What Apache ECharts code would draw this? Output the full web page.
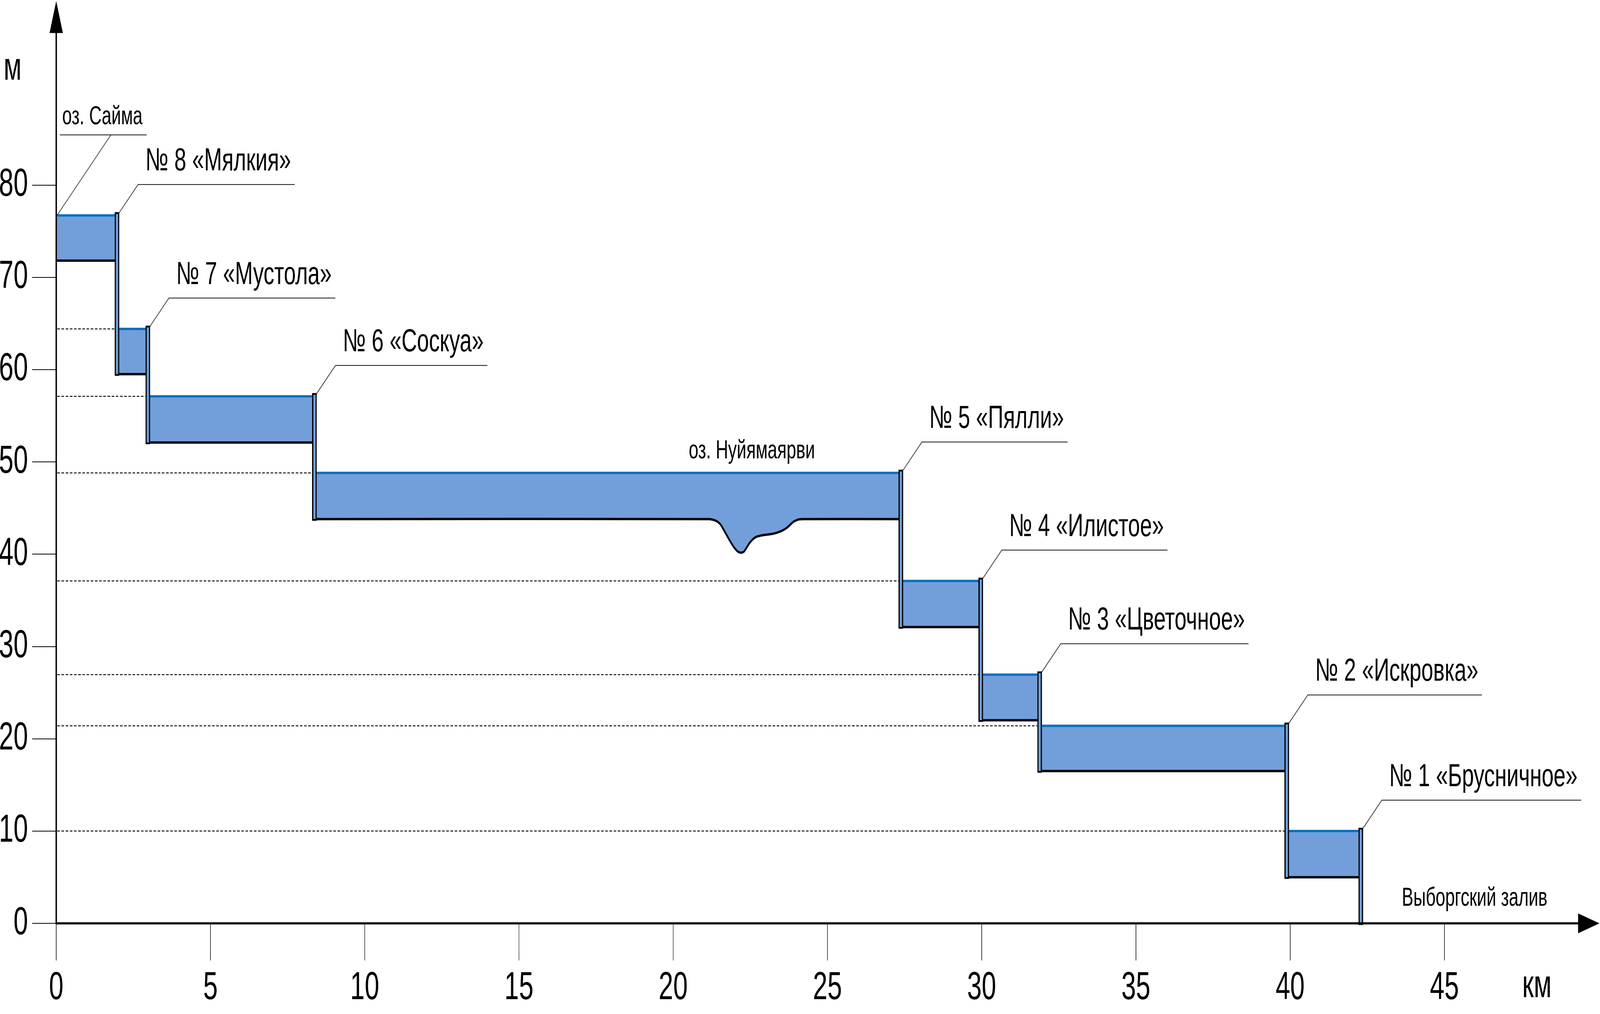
<!DOCTYPE html>
<html>
<head>
<meta charset="utf-8">
<script src="https://cdn.jsdelivr.net/npm/echarts@6/dist/echarts.min.js"></script>
<style>
html,body{margin:0;padding:0;background:#fff;overflow:hidden;}
#chart{width:6120px;height:2595px;transform-origin:0 0;}
</style>
</head>
<body>
<div id="chart"></div>
<script>
// ---------- data ----------
const xTicks = [0, 5, 10, 15, 20, 25, 30, 35, 40, 45];           // км
const yTicks = [0, 10, 20, 30, 40, 50, 60, 70, 80];               // м
const lockNames = ['№ 8 «Мялкия»', '№ 7 «Мустола»', '№ 6 «Соскуа»', '№ 5 «Пялли»',
                   '№ 4 «Илистое»', '№ 3 «Цветочное»', '№ 2 «Искровка»', '№ 1 «Брусничное»'];
const lockKm = [1.97, 2.97, 8.37, 27.38, 29.97, 31.88, 39.89, 42.29];
// pool 0 = оз. Сайма (upstream of lock 8), pool i = between lock i-1 and lock i
const poolTop    = [76.7, 64.4, 57.1, 48.8, 37.1, 26.95, 21.4, 10.0];
const poolBottom = [71.8, 59.5, 52.1, 43.8, 32.1, 22.0, 16.5, 5.0];
const seaLevel = 0;
// bottom profile of оз. Нуйямаярви (pool 3)
const dipPool = 3;
const dipKm    = [21.18, 21.40, 21.53, 21.61, 21.79, 21.96, 22.09, 22.20, 22.30, 22.48, 22.65, 22.82, 23.26, 23.51, 23.69, 23.90, 24.08, 24.21];
const dipLevel = [43.8, 43.59, 43.23, 42.8, 41.73, 40.8, 40.3, 40.16, 40.3, 41.23, 41.8, 42.0, 42.23, 42.51, 42.87, 43.51, 43.77, 43.8];
const lakeNames = ['оз. Сайма', 'оз. Нуйямаярви', 'Выборгский залив'];
const lakeKm    = [0, 22.55, 43.62];
const lakeLevel = [76.7, 48.8, 0];
const unitX = 'км', unitY = 'м';

// ---------- styles ----------
const REF_W = 6120, REF_H = 2595;
const FONT = '"Liberation Sans", Arial, sans-serif';
const WATER = '#729FDA';
const SURFACE = '#0070C0';
const measureCtx = document.createElement('canvas').getContext('2d');
function textWidth(t, size) { measureCtx.font = size + 'px ' + FONT; return measureCtx.measureText(t).width; }

function renderPool(params, api) {
  const i = api.value(0);
  const x0 = i === 0 ? 0 : lockKm[i - 1];
  const x1 = lockKm[i];
  const tl = api.coord([x0, poolTop[i]]);
  const tr = api.coord([x1, poolTop[i]]);
  const bl = api.coord([x0, poolBottom[i]]);
  const br = api.coord([x1, poolBottom[i]]);
  const bottom = [bl];
  if (i === dipPool) dipKm.forEach((k, j) => bottom.push(api.coord([k, dipLevel[j]])));
  bottom.push(br);
  const fillPts = [tl, tr].concat(bottom.slice().reverse());
  return {
    type: 'group',
    children: [
      { type: 'polygon', shape: { points: fillPts }, style: { fill: WATER } },
      { type: 'line', shape: { x1: tl[0], y1: tl[1], x2: tr[0], y2: tr[1] }, style: { stroke: SURFACE, lineWidth: 6 } },
      { type: 'polyline', shape: { points: bottom, smooth: i === dipPool ? 0.25 : 0 }, style: { stroke: '#000', lineWidth: 6, fill: null } }
    ]
  };
}

function renderLevel(params, api) {
  const i = api.value(0);
  const a = api.coord([0, poolTop[i]]);
  const b = api.coord([lockKm[i - 1], poolTop[i]]);
  return { type: 'line', shape: { x1: a[0] + 4, y1: a[1], x2: b[0] - 9, y2: b[1] },
           style: { stroke: '#111', lineWidth: 2.5, lineDash: [10, 6] } };
}

function renderLock(params, api) {
  const i = api.value(0);
  const top = api.coord([lockKm[i], poolTop[i]]);
  const low = i + 1 < poolBottom.length ? poolBottom[i + 1] : seaLevel;
  const bot = api.coord([lockKm[i], low]);
  const w = 13;
  return { type: 'rect', shape: { x: top[0] - w / 2, y: top[1] - 6, width: w, height: bot[1] - top[1] + 8 },
           style: { fill: WATER, stroke: '#000', lineWidth: 4.5 } };
}

function renderCallout(params, api) {
  const i = api.value(0);
  const top = api.coord([lockKm[i], poolTop[i]]);
  const sx = top[0] + 8.5, sy = top[1] - 7;
  const cx = sx + 72, cy = sy - 72;
  const fs = 82;
  const tw = textWidth(lockNames[i], fs);
  const tx = cx + 28;
  return {
    type: 'group',
    children: [
      { type: 'polyline', shape: { points: [[sx, sy], [cx, cy], [tx + tw + 14, cy]] }, style: { stroke: '#111', lineWidth: 2, fill: null } },
      { type: 'text', style: { text: lockNames[i], x: tx, y: cy - 30 - 0.35 * fs, fontSize: fs, fontFamily: FONT, fill: '#000', align: 'left', verticalAlign: 'middle' } }
    ]
  };
}

function renderLakes(params, api) {
  const i = api.value(0);
  const p = api.coord([lakeKm[i], lakeLevel[i]]);
  const fs = 66;
  if (i === 0) {
    const sx = p[0] + 4, sy = p[1] - 1;
    const cx = sx + 205, cy = sy - 205;
    const tw = textWidth(lakeNames[i], fs);
    const tx = sx + 19;
    return {
      type: 'group',
      children: [
        { type: 'line', shape: { x1: sx, y1: sy, x2: cx, y2: cy }, style: { stroke: '#111', lineWidth: 2 } },
        { type: 'line', shape: { x1: tx - 9, y1: cy, x2: tx + tw + 16, y2: cy }, style: { stroke: '#111', lineWidth: 2 } },
        { type: 'text', style: { text: lakeNames[i], x: tx, y: cy - 22 - 0.35 * fs, fontSize: fs, fontFamily: FONT, fill: '#000', align: 'left', verticalAlign: 'middle' } }
      ]
    };
  }
  if (i === 1) {
    return { type: 'text', style: { text: lakeNames[i], x: p[0], y: p[1] - 32 - 0.35 * fs, fontSize: fs, fontFamily: FONT, fill: '#000', align: 'center', verticalAlign: 'middle' } };
  }
  return { type: 'text', style: { text: lakeNames[i], x: p[0], y: p[1] - 40 - 0.35 * fs, fontSize: fs, fontFamily: FONT, fill: '#000', align: 'left', verticalAlign: 'middle' } };
}

function renderUnits(params, api) {
  const i = api.value(0);
  if (i === 0) {
    const p = api.coord([48.0, 0]);
    return { type: 'text', style: { text: unitX, x: p[0], y: p[1] + 161, fontSize: 100, fontFamily: FONT, fill: '#000', align: 'center', verticalAlign: 'middle' } };
  }
  const p = api.coord([0, 92.2]);
  return { type: 'text', style: { text: unitY, x: p[0] - 167, y: p[1] - 9, fontSize: 100, fontFamily: FONT, fill: '#000', align: 'center', verticalAlign: 'middle' } };
}

// the drawing is laid out for 6120×2595; fit it to the actual window
const dom = document.getElementById('chart');
const fitX = window.innerWidth / REF_W, fitY = window.innerHeight / REF_H;
if (Math.abs(fitX - 1) > 0.001 || Math.abs(fitY - 1) > 0.001) {
  dom.style.transform = 'scale(' + fitX + ',' + fitY + ')';
}

const chart = echarts.init(dom, null, { renderer: 'canvas', width: REF_W, height: REF_H });
const axisText = { fontSize: 100, fontFamily: FONT, color: '#000' };
chart.setOption({
  backgroundColor: '#fff',
  animation: false,
  grid: { left: 215, right: 43, top: 43.5, bottom: 232, containLabel: false, outerBoundsMode: 'none' },
  xAxis: {
    type: 'value', min: 0, max: 49.68, interval: 5, z: 5,
    axisLine: { show: true, onZero: false, symbol: ['none', 'triangle'], symbolSize: [51, 82], lineStyle: { color: '#000', width: 5.5 } },
    axisTick: { show: true, length: 95, customValues: xTicks, lineStyle: { color: '#000', width: 2 } },
    axisLabel: Object.assign({ show: true, customValues: xTicks, margin: 116, hideOverlap: false }, axisText),
    splitLine: { show: false }
  },
  yAxis: {
    type: 'value', min: 0, max: 98.2, interval: 10, z: 5,
    axisLine: { show: true, onZero: false, symbol: ['none', 'triangle'], symbolSize: [51, 82], lineStyle: { color: '#000', width: 5.5 } },
    axisTick: { show: true, length: 92, customValues: yTicks, lineStyle: { color: '#000', width: 2 } },
    axisLabel: Object.assign({ show: true, customValues: yTicks, margin: 108, hideOverlap: false }, axisText),
    splitLine: { show: false }
  },
  series: [
    { type: 'custom', name: 'levels', z: 1, silent: true, renderItem: renderLevel, data: poolTop.slice(1).map((v, k) => [k + 1, v]) },
    { type: 'custom', name: 'pools', z: 2, silent: true, renderItem: renderPool, data: poolTop.map((v, i) => [i, v]) },
    { type: 'custom', name: 'locks', z: 3, silent: true, renderItem: renderLock, data: lockKm.map((v, i) => [i, v]) },
    { type: 'custom', name: 'callouts', z: 4, silent: true, renderItem: renderCallout, data: lockNames.map((v, i) => [i, 0]) },
    { type: 'custom', name: 'lakes', z: 4, silent: true, renderItem: renderLakes, data: lakeNames.map((v, i) => [i, 0]) },
    { type: 'custom', name: 'units', z: 4, silent: true, renderItem: renderUnits, data: [[0, 0], [1, 0]] }
  ]
});
</script>
</body>
</html>
